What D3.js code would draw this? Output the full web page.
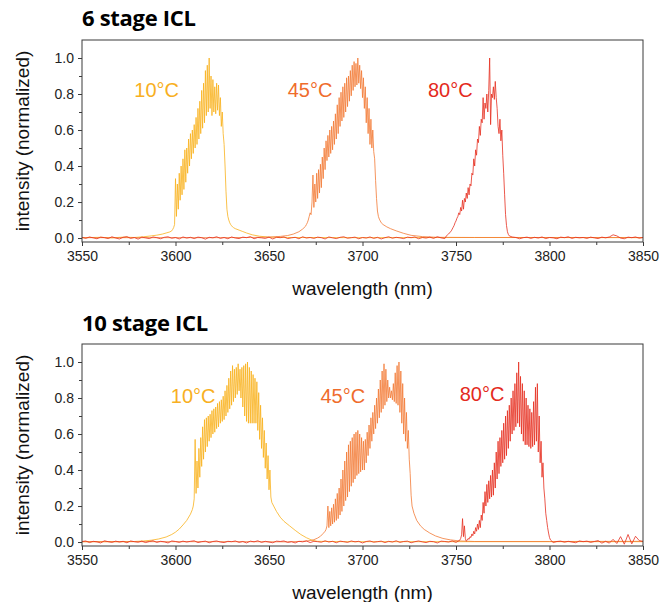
<!DOCTYPE html>
<html><head><meta charset="utf-8">
<script src="https://cdn.jsdelivr.net/npm/d3@7"></script>
<style>body{margin:0;background:#fff}</style>
</head><body>
<svg id="chart" width="663" height="602"></svg>
<script>
// ---------------- DATA ----------------
const panelTitles = ["6 stage ICL", "10 stage ICL"];
const seriesNames = ["10°C", "45°C", "80°C"];
const xTickValues = [3550, 3600, 3650, 3700, 3750, 3800, 3850];
const yTickValues = [0.0, 0.2, 0.4, 0.6, 0.8, 1.0];
const peakStep = 0.5;      // nm, spectral sampling of peak regions
const noiseStep = 2;       // nm, sampling of red baseline
const noiseStart = 3550;

// ---- 6 stage ICL ----
const top10Left = [[3550,0.002],[3560,0.004],[3566,0.001],[3572,0.005],[3578,0.003],[3583,0.007],[3587,0.012],[3590,0.016],[3593,0.022],[3595,0.028],[3597,0.034]];
const top10PeakStart = 3598;
const top10Peak = [0.040,0.048,0.058,0.075,0.33,0.12,0.30,0.16,0.36,0.21,0.40,0.24,0.44,0.27,0.49,0.31,0.50,0.36,0.55,0.40,0.58,0.44,0.60,0.47,0.63,0.50,0.67,0.52,0.72,0.55,0.76,0.58,0.82,0.61,0.86,0.64,0.93,0.68,0.96,0.70,1.00,0.72,0.90,0.68,0.88,0.70,0.84,0.69,0.86,0.71,0.85,0.68,0.78,0.62,0.70,0.58,0.52,0.40,0.26,0.16,0.12,0.10,0.085,0.075,0.068,0.062,0.058];
const top10Right = [[3632,0.052],[3634,0.044],[3636,0.036],[3638,0.028],[3641,0.018],[3645,0.010],[3650,0.005],[3660,0.003],[3700,0.002],[3760,0.003],[3850,0.002]];

const top45Left = [[3550,0.002],[3620,0.002],[3640,0.003],[3650,0.005],[3656,0.009],[3660,0.014],[3663,0.022],[3666,0.035],[3668,0.05],[3669.5,0.065]];
const top45PeakStart = 3670;
const top45Peak = [0.075,0.085,0.10,0.12,0.14,0.13,0.20,0.35,0.17,0.30,0.20,0.36,0.22,0.38,0.25,0.41,0.28,0.45,0.33,0.50,0.38,0.54,0.43,0.57,0.45,0.60,0.47,0.62,0.49,0.65,0.52,0.69,0.55,0.74,0.58,0.78,0.62,0.81,0.65,0.84,0.67,0.86,0.70,0.89,0.73,0.90,0.76,0.93,0.79,0.96,0.82,0.98,0.84,0.97,0.85,1.00,0.86,0.96,0.83,0.93,0.78,0.89,0.72,0.84,0.64,0.78,0.58,0.72,0.52,0.66,0.50,0.60,0.48,0.44,0.32,0.22,0.15,0.12,0.105,0.095,0.085];
const top45Right = [[3711,0.075],[3713,0.062],[3715,0.052],[3718,0.04],[3722,0.026],[3726,0.015],[3732,0.008],[3740,0.004],[3760,0.003],[3800,0.003],[3850,0.003]];

const top80PeakStart = 3745;
const top80Peak = [0.014,0.018,0.022,0.028,0.034,0.04,0.05,0.06,0.07,0.085,0.095,0.11,0.12,0.14,0.13,0.17,0.15,0.21,0.16,0.22,0.20,0.25,0.22,0.28,0.24,0.30,0.29,0.36,0.35,0.44,0.40,0.49,0.46,0.55,0.53,0.62,0.57,0.66,0.64,0.78,0.66,0.75,0.72,0.80,0.70,0.82,1.00,0.63,0.80,0.78,0.84,0.77,0.87,0.78,0.72,0.62,0.58,0.66,0.54,0.60,0.46,0.36,0.24,0.13,0.07,0.035,0.02,0.012];
const top80Noise = [0.004,-0.002,0.006,0.001,-0.004,0.005,0.002,-0.003,0.007,0.000,
 -0.005,0.004,0.008,-0.002,0.003,-0.006,0.005,0.001,-0.003,0.006,
 0.002,-0.004,0.004,0.007,-0.001,0.003,-0.005,0.006,0.000,0.004,
 -0.003,0.005,0.002,-0.006,0.004,0.001,0.007,-0.002,0.003,-0.004,
 0.006,0.000,-0.003,0.005,0.002,0.008,-0.004,0.003,0.001,-0.002,
 0.005,-0.005,0.004,0.002,0.006,-0.003,0.001,0.004,-0.004,0.007,
 0.000,0.003,-0.002,0.005,0.002,-0.005,0.006,0.001,-0.003,0.004,
 0.007,-0.001,0.002,0.005,-0.004,0.003,0.000,0.006,-0.002,0.004,
 -0.005,0.002,0.007,-0.001,0.004,0.001,-0.003,0.005,0.002,0.006,
 -0.004,0.003,0.000,0.005,-0.002,0.007,0.001,-0.003,0.004,0.002,
 -0.005,0.006,0.001,0.003,-0.002,0.005,0.000,-0.004,0.004,0.007,
 0.002,-0.003,0.005,0.001,-0.001,0.006,0.003,-0.004,0.002,0.005,
 -0.002,0.004,0.000,0.006,-0.003,0.003,0.001,-0.004,0.005,0.002,
 0.007,-0.002,0.004,0.001,0.003,-0.002,0.005,0.001,-0.003,0.005,
 0.001,0.006,0.018,0.012,0.000,-0.004,0.005,0.002,0.006,-0.001,
 0.003];

// ---- 10 stage ICL ----
const bot10Left = [[3550,0.002],[3570,0.002],[3578,0.003],[3583,0.006],[3587,0.010],[3591,0.017],[3595,0.028],[3598,0.042],[3600,0.055],[3602,0.072],[3604,0.095],[3606,0.12],[3608,0.155],[3609,0.18]];
const bot10PeakStart = 3609.5;
const bot10Peak = [0.20,0.24,0.57,0.27,0.45,0.30,0.52,0.36,0.58,0.42,0.64,0.46,0.68,0.50,0.69,0.53,0.70,0.56,0.71,0.58,0.73,0.60,0.74,0.61,0.75,0.63,0.77,0.64,0.78,0.66,0.79,0.67,0.81,0.68,0.84,0.70,0.87,0.72,0.91,0.74,0.95,0.76,0.98,0.78,0.96,0.80,0.97,0.82,0.99,0.84,0.96,0.80,0.97,0.75,0.98,0.70,0.99,0.67,1.00,0.66,0.97,0.66,0.95,0.66,0.93,0.66,0.91,0.66,0.89,0.62,0.83,0.57,0.76,0.52,0.69,0.47,0.62,0.41,0.55,0.35,0.48,0.29,0.40,0.25,0.22];
const bot10Right = [[3652.5,0.20],[3654,0.17],[3656,0.138],[3658,0.115],[3661,0.09],[3664,0.065],[3667,0.042],[3670,0.024],[3673,0.01],[3676,0.004],[3690,0.002],[3850,0.002]];

const bot45Left = [[3550,0.002],[3640,0.002],[3660,0.001],[3668,0.004],[3672,0.008],[3674,0.013],[3676,0.022],[3677.5,0.032],[3679,0.048]];
const bot45PeakStart = 3680;
const bot45Peak = [0.06,0.07,0.09,0.20,0.08,0.17,0.09,0.19,0.10,0.21,0.11,0.24,0.12,0.27,0.13,0.30,0.15,0.35,0.17,0.40,0.20,0.45,0.23,0.50,0.25,0.54,0.28,0.56,0.31,0.58,0.33,0.60,0.35,0.61,0.37,0.62,0.38,0.60,0.39,0.58,0.40,0.56,0.40,0.57,0.44,0.61,0.48,0.65,0.52,0.69,0.56,0.72,0.60,0.76,0.63,0.80,0.66,0.85,0.69,0.90,0.72,0.95,0.74,0.99,0.76,0.96,0.78,0.90,0.80,0.86,0.80,0.84,0.79,0.88,0.78,0.94,0.77,0.98,0.76,1.00,0.72,0.95,0.66,0.88,0.60,0.80,0.56,0.72,0.52,0.62,0.46,0.38,0.26,0.20];
const bot45Right = [[3727.5,0.16],[3729,0.12],[3731,0.09],[3733,0.07],[3736,0.05],[3739,0.034],[3743,0.02],[3747,0.012],[3752,0.006],[3760,0.003],[3800,0.003],[3850,0.004]];

const bot80PeakStart = 3752;
const bot80Peak = [0.01,0.02,0.04,0.13,0.03,0.09,0.02,0.005,0.01,0.02,0.015,0.03,0.025,0.045,0.035,0.06,0.045,0.08,0.06,0.10,0.07,0.12,0.08,0.15,0.12,0.22,0.16,0.28,0.20,0.32,0.22,0.34,0.24,0.37,0.25,0.40,0.26,0.44,0.30,0.50,0.35,0.56,0.38,0.58,0.42,0.62,0.44,0.66,0.46,0.70,0.48,0.73,0.52,0.76,0.56,0.80,0.60,0.84,0.62,0.88,0.64,0.94,0.66,1.00,0.64,0.92,0.60,0.88,0.56,0.84,0.54,0.80,0.54,0.76,0.53,0.74,0.52,0.72,0.53,0.78,0.54,0.86,0.56,0.88,0.50,0.70,0.44,0.56,0.36,0.44,0.30,0.24,0.16,0.12,0.08,0.05,0.025,0.012];
const bot80Noise = [0.003,0.006,-0.003,0.004,0.001,-0.005,0.007,0.002,-0.002,0.005,
 0.000,0.004,-0.004,0.006,0.002,-0.001,0.005,-0.003,0.003,0.007,
 -0.002,0.004,0.001,-0.005,0.006,0.003,-0.002,0.005,0.000,0.004,
 0.007,-0.003,0.002,0.005,-0.004,0.003,0.006,0.000,-0.003,0.004,
 0.002,0.006,-0.002,0.003,-0.005,0.005,0.001,0.007,-0.002,0.004,
 0.000,-0.004,0.005,0.003,0.006,-0.002,0.002,-0.005,0.004,0.001,
 0.006,-0.003,0.004,0.002,-0.001,0.007,0.000,0.004,-0.004,0.005,
 0.002,-0.002,0.006,0.001,0.004,-0.005,0.003,0.006,-0.001,0.002,
 0.005,-0.003,0.004,0.000,0.007,-0.002,0.003,0.005,-0.004,0.002,
 0.006,0.001,-0.003,0.004,0.002,-0.005,0.005,0.003,0.000,0.006,
 -0.002,0.004,0.001,0.005,-0.004,0.003,0.007,-0.001,0.002,0.005,
 -0.003,0.004,0.000,0.006,0.002,-0.004,0.005,0.001,0.003,-0.002,
 0.006,0.002,-0.005,0.004,0.001,0.007,-0.003,0.003,0.005,-0.001,
 0.004,0.000,-0.004,0.006,0.002,0.005,-0.002,0.003,0.008,-0.006,
 0.004,-0.006,0.015,-0.008,0.030,-0.012,0.042,-0.010,0.032,0.008,
 0.003];

// ---------------- LAYOUT / STYLE ----------------
const colors = {"10°C": "#F9B11C", "45°C": "#F37A35", "80°C": "#E62E1F"};
const labelColors = {"10°C": "#F8AF22", "45°C": "#EF6C2C", "80°C": "#E42A20"};
const panelLayout = [
  {top: 40, bottom: 242, titleY: 26,
   labels: [{wl: 3578, y: 0.82}, {wl: 3660, y: 0.82}, {wl: 3735, y: 0.82}]},
  {top: 344, bottom: 546, titleY: 331,
   labels: [{wl: 3597.5, y: 0.81}, {wl: 3677.5, y: 0.81}, {wl: 3752, y: 0.82}]}
];
const left = 82, right = 643;
const yDomain = [-0.022, 1.1];

// ---------------- BUILD SERIES ----------------
function grid(start, values) { return values.map((v, i) => [start + i * peakStep, v]); }
function noiseOutside(noise, lo, hi) {
  return noise.map((v, i) => [noiseStart + i * noiseStep, v]).filter(d => d[0] < lo || d[0] > hi);
}
function redSeries(noise, start, peak) {
  const pk = grid(start, peak);
  const lo = pk[0][0], hi = pk[pk.length - 1][0];
  return noiseOutside(noise, lo, hi).concat(pk).sort((a, b) => a[0] - b[0]);
}
const panelsData = [
  [top10Left.concat(grid(top10PeakStart, top10Peak), top10Right),
   top45Left.concat(grid(top45PeakStart, top45Peak), top45Right),
   redSeries(top80Noise, top80PeakStart, top80Peak)],
  [bot10Left.concat(grid(bot10PeakStart, bot10Peak), bot10Right),
   bot45Left.concat(grid(bot45PeakStart, bot45Peak), bot45Right),
   redSeries(bot80Noise, bot80PeakStart, bot80Peak)]
];

// ---------------- DRAW ----------------
const svg = d3.select("#chart");
const x = d3.scaleLinear().domain([3550, 3850]).range([left, right]);
const fontSans = "'Liberation Sans', Arial, Helvetica, sans-serif";

panelLayout.forEach((pl, pi) => {
  const y = d3.scaleLinear().domain(yDomain).range([pl.bottom, pl.top]);
  const g = svg.append("g");

  const clipId = "clip" + pi;
  svg.append("defs").append("clipPath").attr("id", clipId)
    .append("rect").attr("x", left).attr("y", pl.top)
    .attr("width", right - left).attr("height", pl.bottom - pl.top);

  // lines
  const line = d3.line().x(d => x(d[0])).y(d => y(d[1]));
  const lg = g.append("g").attr("clip-path", `url(#${clipId})`);
  panelsData[pi].forEach((s, si) => {
    lg.append("path").datum(s)
      .attr("d", line)
      .attr("fill", "none")
      .attr("stroke", colors[seriesNames[si]])
      .attr("stroke-width", 0.8)
      .attr("stroke-linejoin", "round");
  });

  // frame
  g.append("rect").attr("x", left).attr("y", pl.top)
    .attr("width", right - left).attr("height", pl.bottom - pl.top)
    .attr("fill", "none").attr("stroke", "#3a3a3a").attr("stroke-width", 1);

  // x axis
  const xAxis = d3.axisBottom(x).tickValues(xTickValues).tickFormat(d3.format("d"))
    .tickSizeInner(4).tickSizeOuter(0).tickPadding(5);
  const xa = g.append("g").attr("transform", `translate(0,${pl.bottom})`).call(xAxis);
  const xMinor = d3.axisBottom(x).tickValues(d3.range(3575, 3850, 50)).tickFormat("")
    .tickSizeInner(3).tickSizeOuter(0);
  const xm = g.append("g").attr("transform", `translate(0,${pl.bottom})`).call(xMinor);

  // y axis
  const yAxis = d3.axisLeft(y).tickValues(yTickValues).tickFormat(d3.format(".1f"))
    .tickSizeInner(4).tickSizeOuter(0).tickPadding(4);
  const ya = g.append("g").attr("transform", `translate(${left},0)`).call(yAxis);
  const yMinor = d3.axisLeft(y).tickValues([0.1, 0.3, 0.5, 0.7, 0.9]).tickFormat("")
    .tickSizeInner(3).tickSizeOuter(0);
  const ym = g.append("g").attr("transform", `translate(${left},0)`).call(yMinor);

  [xa, xm, ya, ym].forEach(a => {
    a.select(".domain").remove();
    a.selectAll("line").attr("stroke", "#3a3a3a");
    a.selectAll("text").attr("fill", "#222").style("font-family", fontSans).style("font-size", "14px");
  });

  // axis titles
  g.append("text").attr("x", (left + right) / 2).attr("y", pl.bottom + 53)
    .attr("text-anchor", "middle").style("font-family", fontSans).style("font-size", "19px")
    .attr("fill", "#111").text("wavelength (nm)");
  g.append("text")
    .attr("transform", `translate(22,${(pl.top + pl.bottom) / 2}) rotate(-90)`)
    .attr("text-anchor", "middle").attr("dominant-baseline", "central")
    .style("font-family", fontSans).style("font-size", "19px")
    .attr("fill", "#111").text("intensity (normalized)");

  // panel title
  g.append("text").attr("x", left).attr("y", pl.titleY)
    .style("font-family", "'Open Sans', sans-serif").style("font-weight", "700")
    .style("font-size", "22px").style("letter-spacing", "-0.3px")
    .attr("fill", "#000").text(panelTitles[pi]);

  // series labels
  pl.labels.forEach((lb, li) => {
    g.append("text").attr("x", x(lb.wl)).attr("y", y(lb.y))
      .attr("dominant-baseline", "central")
      .style("font-family", fontSans).style("font-size", "20px")
      .attr("fill", labelColors[seriesNames[li]]).text(seriesNames[li]);
  });
});
</script>
</body></html>
